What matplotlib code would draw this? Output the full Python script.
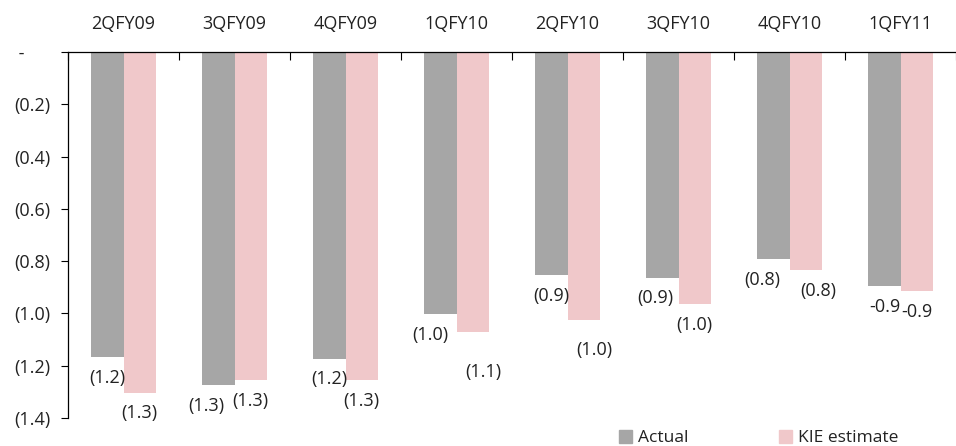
import numpy as np
import matplotlib
matplotlib.use('Agg')
import matplotlib.pyplot as plt
from matplotlib.patches import Patch

plt.rcParams['font.family'] = ['Open Sans', 'DejaVu Sans']
plt.rcParams['font.size'] = 13

quarters = ['2QFY09', '3QFY09', '4QFY09', '1QFY10', '2QFY10', '3QFY10', '4QFY10', '1QFY11']
actual = [-1.166, -1.273, -1.173, -1.002, -0.853, -0.863, -0.792, -0.895]
estimate = [-1.303, -1.255, -1.255, -1.070, -1.024, -0.963, -0.834, -0.913]
yticks = [0, -0.2, -0.4, -0.6, -0.8, -1.0, -1.2, -1.4]

GRAY = '#a6a6a6'
PINK = '#f0c8ca'
TEXT = '#222222'


def fmt_paren(v):
    if round(v, 1) == 0:
        return ' -'
    return '(%.1f)' % abs(v)


def fmt_plain(v):
    return '%.1f' % v


# the last quarter's labels were written as plain negatives
label_fmt = [fmt_paren] * 7 + [fmt_plain]

# hand nudges (points) for labels that were dragged off their bars
nudge_actual = {1: (-9, 0), 3: (-7, 0), 5: (-5, 0), 6: (-8, 0)}
nudge_estimate = {3: (8, -14), 4: (8, -7), 6: (9, 0)}

fig = plt.figure(figsize=(9.56, 4.46), dpi=100)
ax = fig.add_axes([68 / 956, 1 - 418 / 446, 1 - 68 / 956, 366 / 446])

x = np.arange(len(quarters))
w = 0.29
bars_a = ax.bar(x - w / 2, actual, w, color=GRAY, zorder=2)
bars_e = ax.bar(x + w / 2, estimate, w, color=PINK, zorder=2)

for bars, vals, nudges in [(bars_a, actual, nudge_actual), (bars_e, estimate, nudge_estimate)]:
    for i, (b, v) in enumerate(zip(bars, vals)):
        dx, dy = nudges.get(i, (0, 0))
        ax.annotate(label_fmt[i](v), (b.get_x() + b.get_width() / 2, v),
                    xytext=(dx, -15 + dy), textcoords='offset points',
                    ha='center', va='center', color=TEXT)

ax.set_xlim(-0.5, len(quarters) - 0.5)
ax.set_ylim(-1.4, 0)

ax.xaxis.tick_top()
ax.set_xticks(x)
ax.set_xticklabels(quarters, color=TEXT)
ax.set_xticks(np.arange(len(quarters) + 1) - 0.5, minor=True)
ax.tick_params(axis='x', which='major', length=0, pad=14)
ax.tick_params(axis='x', which='minor', direction='in', length=6, width=0.8, top=True)

# y labels hang from the left edge, as in an accounting number format
ax.set_yticks(yticks)
ax.set_yticklabels([fmt_paren(v) for v in yticks], color=TEXT, ha='left')
ax.tick_params(axis='y', direction='out', length=5, width=0.8, pad=34)

for s in ['right', 'bottom']:
    ax.spines[s].set_visible(False)
ax.spines['top'].set_linewidth(0.9)
ax.spines['left'].set_linewidth(0.9)

handles = [Patch(color=GRAY, label='Actual'), Patch(color=PINK, label='KIE estimate')]
fig.legend(handles=handles, loc='center left', bbox_to_anchor=(610 / 956, 1 - 438 / 446),
           ncol=2, frameon=False, handlelength=0.75, handleheight=0.75, handletextpad=0.35,
           columnspacing=5.2, borderpad=0, fontsize=12.5, labelcolor=TEXT)

fig.savefig('out.png', dpi=100)
